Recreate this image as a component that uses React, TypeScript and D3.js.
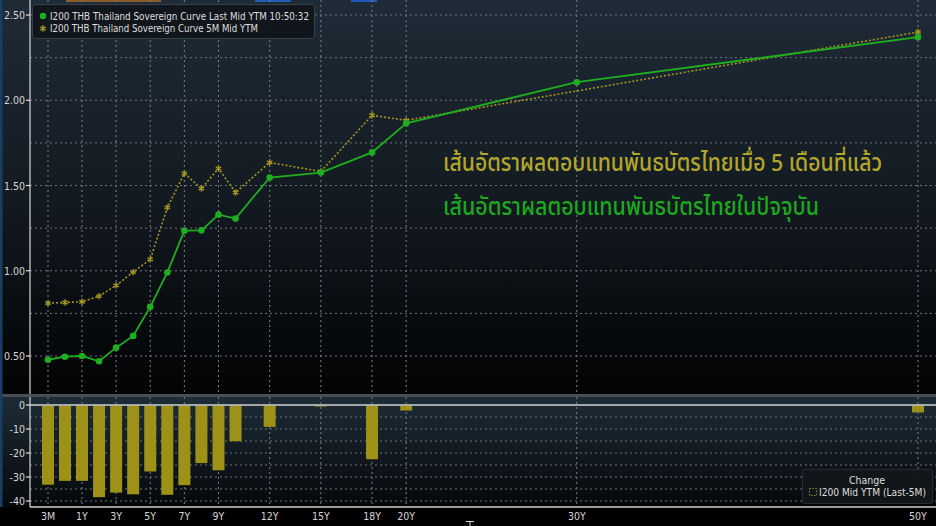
import React from "react";
import * as d3 from "d3";

// ---- data ----
const tenorLabels = ["3M","6M","1Y","2Y","3Y","4Y","5Y","6Y","7Y","8Y","9Y","10Y","12Y","15Y","18Y","20Y","30Y","50Y"];
const tenorYears = [0.25,0.5,1,2,3,4,5,6,7,8,9,10,12,15,18,20,30,50];
const lastYield = [0.478,0.496,0.500,0.469,0.549,0.618,0.788,0.990,1.235,1.237,1.329,1.306,1.547,1.576,1.694,1.865,2.106,2.370];
const fiveMYield: (number | null)[] = [0.810,0.814,0.818,0.851,0.914,0.992,1.067,1.370,1.571,1.482,1.600,1.459,1.635,1.582,1.912,1.882,null,2.400];
const changeBp: (number | null)[] = [-33.0,-31.4,-31.4,-38.2,-36.3,-37.0,-27.5,-37.2,-33.2,-24.0,-27.0,-14.9,-8.9,-0.3,-22.4,-2.1,null,-2.9];
const xTickLabels = ["3M","1Y","3Y","5Y","7Y","9Y","12Y","15Y","18Y","20Y","30Y","50Y"];
const topTicks = [0.5,1.0,1.5,2.0,2.5];
const topGrid = [0.5,0.75,1.0,1.25,1.5,1.75,2.0,2.25,2.5];
const bottomTicks = [0,-10,-20,-30,-40];
const bottomGrid = [-5,-10,-15,-20,-25,-30,-35,-40];
const legendTop = ["I200 THB Thailand Sovereign Curve Last Mid YTM 10:50:32","I200 THB Thailand Sovereign Curve 5M Mid YTM"];
const legendBottom = ["Change","I200 Mid YTM (Last-5M)"];
const noteOld = "เส้นอัตราผลตอบแทนพันธบัตรไทยเมื่อ 5 เดือนที่แล้ว";
const noteNow = "เส้นอัตราผลตอบแทนพันธบัตรไทยในปัจจุบัน";

const W = 936, H = 526;
const AX = 30;
const FONT = "'DejaVu Sans Condensed','Liberation Sans Narrow','Liberation Sans',sans-serif";
const GREEN = "#1fae1f";
const OLIVE = "#a39524";
const BAR = "#9d9217";

export default function App() {
  const x = d3.scaleLinear().domain([0.25, 0.5, 1, 50]).range([48, 65, 82, 918]);
  const yTop = d3.scaleLinear().domain([0.5, 2.5]).range([356, 15]);
  const yBot = d3.scaleLinear().domain([0, -40]).range([405, 501]);

  const pts = tenorYears.map((t, i) => ({ t, last: lastYield[i], old: fiveMYield[i], ch: changeBp[i], label: tenorLabels[i] }));
  const lineLast = d3.line<any>().x(d => x(d.t)).y(d => yTop(d.last));
  const oldPts = pts.filter(d => d.old != null);
  const lineOld = d3.line<any>().x(d => x(d.t)).y(d => yTop(d.old));
  const ast = d3.symbol().type(d3.symbolAsterisk).size(28)();
  const labelX = (l: string) => x(tenorYears[tenorLabels.indexOf(l)]);

  return (
    <svg width={W} height={H} style={{ position: "fixed", left: 0, top: 0, background: "#000" }} fontFamily={FONT}>
      <defs>
        <linearGradient id="gTop" x1="0" y1="0" x2="0" y2="1">
          <stop offset="0" stopColor="#1f2b37" />
          <stop offset="0.5" stopColor="#131a21" />
          <stop offset="1" stopColor="#020304" />
        </linearGradient>
        <linearGradient id="gBot" x1="0" y1="0" x2="0" y2="1">
          <stop offset="0" stopColor="#1e2c37" />
          <stop offset="1" stopColor="#05080a" />
        </linearGradient>
      </defs>
      <rect x={0} y={0} width={W} height={394} fill="url(#gTop)" />
      <rect x={0} y={394} width={W} height={3.5} fill="#4a4f55" />
      <rect x={0} y={397} width={W} height={110} fill="url(#gBot)" />
      <rect x={0} y={507} width={W} height={19} fill="#000" />
      <rect x={0} y={0} width={2.5} height={507} fill="#1b3d63" />
      <rect x={66} y={0} width={95} height={2} fill="#8a5c2c" />
      <rect x={255} y={0} width={36} height={2} fill="#1f5cb5" />
      <rect x={351} y={0} width={26} height={2} fill="#1f5cb5" />

      {/* grid */}
      {topGrid.map(v => (
        <line key={"tg" + v} x1={AX} x2={W} y1={yTop(v)} y2={yTop(v)} stroke="#6d737a" strokeWidth={1} strokeDasharray="2,3" />
      ))}
      {bottomGrid.map(v => (
        <line key={"bg" + v} x1={AX} x2={W} y1={yBot(v)} y2={yBot(v)} stroke="#6d737a" strokeWidth={1} strokeDasharray="2,3" />
      ))}
      {xTickLabels.map(l => (
        <g key={"vg" + l}>
          <line x1={labelX(l)} x2={labelX(l)} y1={0} y2={394} stroke="#7a8088" strokeWidth={1} strokeDasharray="2,3" />
          <line x1={labelX(l)} x2={labelX(l)} y1={397} y2={507} stroke="#7a8088" strokeWidth={1} strokeDasharray="2,3" />
        </g>
      ))}

      {/* axes */}
      <line x1={AX} x2={AX} y1={0} y2={394} stroke="#d8d8d8" strokeWidth={1.2} />
      <line x1={AX} x2={AX} y1={397} y2={507} stroke="#d8d8d8" strokeWidth={1.2} />
      <line x1={AX} x2={W} y1={507} y2={507} stroke="#cfcfcf" strokeWidth={1.5} />
      {topTicks.map(v => (
        <g key={"tt" + v}>
          <line x1={AX - 4} x2={AX} y1={yTop(v)} y2={yTop(v)} stroke="#e0e0e0" strokeWidth={1.2} />
          <text x={AX - 5} y={yTop(v) + 4} textAnchor="end" fontSize={10.5} fill="#d6d6d6">{v.toFixed(2)}</text>
        </g>
      ))}
      {bottomTicks.map(v => (
        <g key={"bt" + v}>
          <line x1={AX - 4} x2={AX} y1={yBot(v)} y2={yBot(v)} stroke="#e0e0e0" strokeWidth={1.2} />
          <text x={AX - 5} y={yBot(v) + 4} textAnchor="end" fontSize={10.5} fill="#d6d6d6">{v}</text>
        </g>
      ))}
      {xTickLabels.map(l => (
        <text key={"xl" + l} x={labelX(l)} y={520} textAnchor="middle" fontSize={10.5} fill="#d6d6d6">{l}</text>
      ))}
      <line x1={466} x2={474} y1={521.5} y2={521.5} stroke="#ddd" strokeWidth={1} />
      <line x1={470} x2={470} y1={521.5} y2={526} stroke="#ddd" strokeWidth={1} />

      {/* bars */}
      {pts.filter(d => d.ch != null).map(d => {
        const y0 = yBot(0), y1 = yBot(d.ch as number);
        return <rect key={"b" + d.label} x={x(d.t) - 6} width={12} y={Math.min(y0, y1) + 0.5} height={Math.max(1, Math.abs(y1 - y0))} fill={BAR} />;
      })}
      <line x1={AX} x2={W} y1={yBot(0)} y2={yBot(0)} stroke="#d0d0d0" strokeWidth={1.5} />

      {/* lines */}
      <path d={lineOld(oldPts) || ""} fill="none" stroke={OLIVE} strokeWidth={1.6} strokeDasharray="2,2" />
      {oldPts.map(d => (
        <path key={"o" + d.label} d={ast || ""} transform={`translate(${x(d.t)},${yTop(d.old as number)})`} stroke={OLIVE} strokeWidth={1.4} fill="none" />
      ))}
      <path d={lineLast(pts) || ""} fill="none" stroke={GREEN} strokeWidth={1.8} />
      {pts.map(d => (
        <circle key={"c" + d.label} cx={x(d.t)} cy={yTop(d.last)} r={3.3} fill={GREEN} />
      ))}

      {/* annotations */}
      <text x={443} y={171} fontSize={24} fontWeight={500} fill="#b2a62c" textLength={439} lengthAdjust="spacingAndGlyphs" fontFamily="'Noto Sans Thai','Loma','Garuda','Noto Sans',sans-serif">{noteOld}</text>
      <text x={443} y={215} fontSize={24} fontWeight={500} fill="#1ea81e" textLength={376} lengthAdjust="spacingAndGlyphs" fontFamily="'Noto Sans Thai','Loma','Garuda','Noto Sans',sans-serif">{noteNow}</text>

      {/* top legend */}
      <rect x={32.5} y={4.5} width={282} height={34} rx={3} fill="#10151a" fillOpacity={0.92} stroke="#3a4148" />
      <circle cx={43} cy={16} r={3.2} fill={GREEN} />
      <path d={ast || ""} transform="translate(43,28.5)" stroke={OLIVE} strokeWidth={1.4} fill="none" />
      <text x={50} y={19.5} fontSize={10.5} fill="#dedede" textLength={259} lengthAdjust="spacingAndGlyphs">{legendTop[0]}</text>
      <text x={50} y={32} fontSize={10.5} fill="#dedede" textLength={208} lengthAdjust="spacingAndGlyphs">{legendTop[1]}</text>

      {/* bottom legend */}
      <rect x={802.5} y={469.5} width={130} height={34} rx={2} fill="#111619" fillOpacity={0.95} stroke="#262c32" />
      <text x={867} y={484} textAnchor="middle" fontSize={10.5} fill="#dedede">{legendBottom[0]}</text>
      <rect x={809.5} y={488.5} width={7} height={7} fill="none" stroke="#8d8422" strokeDasharray="1.5,1.5" />
      <text x={819} y={496} fontSize={10.5} fill="#dedede" textLength={107} lengthAdjust="spacingAndGlyphs">{legendBottom[1]}</text>
    </svg>
  );
}
